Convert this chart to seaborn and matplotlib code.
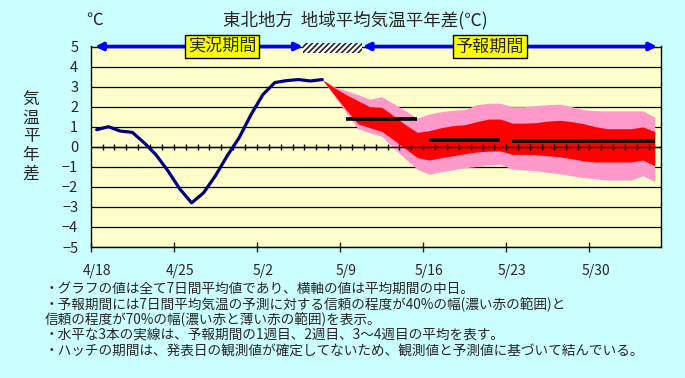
import numpy as np
import matplotlib
matplotlib.use('Agg')
from matplotlib import pyplot as plt
from matplotlib import transforms
from matplotlib.patches import Rectangle
import seaborn as sns

# x values are days counted from 4/18
obs_day = [0.5, 1.5, 2.5, 3.5, 4.5, 5.5, 6.5, 7.5, 8.5, 9.5,
           10.5, 11.5, 12.5, 13.5, 14.5, 15.5, 16.5, 17.5, 18.5, 19.5]
obs_val = [0.85, 1.0, 0.78, 0.72, 0.2, -0.4, -1.2, -2.1, -2.8, -2.3,
           -1.45, -0.45, 0.45, 1.6, 2.6, 3.2, 3.3, 3.35, 3.28, 3.35]

fc_day = [19.5, 20.5, 21.5, 22.5, 23.5, 24.5, 25.5, 26.5, 27.5, 28.5,
          29.5, 30.5, 31.5, 32.5, 33.5, 34.5, 35.5, 36.5, 37.5, 38.5,
          39.5, 40.5, 41.5, 42.5, 43.5, 44.5, 45.5, 46.5, 47.5]
p70_hi = [3.35, 3.0, 2.8, 2.6, 2.37, 2.5, 2.15, 1.8, 1.43, 1.63,
          1.75, 1.82, 1.85, 2.1, 2.17, 2.17, 2.0, 2.0, 2.05, 2.1,
          2.12, 2.0, 1.84, 1.8, 1.79, 1.79, 1.79, 1.79, 1.48]
p40_hi = [3.35, 2.95, 2.6, 2.3, 2.0, 1.97, 1.55, 1.1, 0.72, 0.8,
          0.95, 1.05, 1.1, 1.25, 1.38, 1.38, 1.18, 1.18, 1.2, 1.28,
          1.32, 1.25, 1.15, 1.0, 0.9, 0.9, 0.9, 0.99, 0.76]
p40_lo = [3.35, 2.6, 1.85, 1.15, 0.95, 0.77, 0.35, -0.1, -0.54, -0.66,
          -0.55, -0.45, -0.35, -0.26, -0.22, -0.21, -0.38, -0.38, -0.4, -0.45,
          -0.5, -0.6, -0.7, -0.76, -0.76, -0.76, -0.76, -0.66, -0.95]
p70_lo = [3.35, 2.55, 1.7, 0.9, 0.7, 0.53, -0.05, -0.6, -1.12, -1.37,
          -1.25, -1.15, -1.05, -0.99, -0.9, -0.87, -1.12, -1.15, -1.2, -1.28,
          -1.35, -1.45, -1.53, -1.6, -1.66, -1.66, -1.66, -1.45, -1.74]

# weekly means: week 1, week 2, weeks 3-4
week_start = [21.5, 28.5, 35.5]
week_end = [27.5, 34.5, 47.5]
week_mean = [1.4, 0.33, 0.28]

tick_days = [0, 7, 14, 21, 28, 35, 42]
tick_labels = ['4/18', '4/25', '5/2', '5/9', '5/16', '5/23', '5/30']

obs_period = (0.36, 17.86)
hatch_period = (17.9, 22.85)
fc_period = (22.9, 47.7)

title = '東北地方  地域平均気温平年差(℃)'
notes = [
    '・グラフの値は全て7日間平均値であり、横軸の値は平均期間の中日。',
    '・予報期間には7日間平均気温の予測に対する信頼の程度が40%の幅(濃い赤の範囲)と',
    '信頼の程度が70%の幅(濃い赤と薄い赤の範囲)を表示。',
    '・水平な3本の実線は、予報期間の1週目、2週目、3～4週目の平均を表す。',
    '・ハッチの期間は、発表日の観測値が確定してないため、観測値と予測値に基づいて結んでいる。',
]

sns.set_style('white')
plt.rcParams['font.family'] = ['Noto Sans CJK JP', 'DejaVu Sans']
plt.rcParams['hatch.linewidth'] = 1.2

fig = plt.figure(figsize=(6.85, 3.78), dpi=100)
fig.patch.set_facecolor('#CCFFFF')
W, H = 685, 378
ax = fig.add_axes([90.7 / W, 1 - 247 / H, 570 / W, 200.5 / H])
ax.set_facecolor('#FFFFCC')

# bands
ax.fill_between(fc_day, p70_lo, p70_hi, color='#FF99CC', lw=0, zorder=1)
ax.fill_between(fc_day, p40_lo, p40_hi, color='#FF0000', lw=0, zorder=2)

# zero line with daily ticks
ax.axhline(0, color='black', lw=1, zorder=3)
ax.vlines(np.arange(1, 48), -0.15, 0.15, color='black', lw=1, zorder=3)

# observation
sns.lineplot(x=obs_day, y=obs_val, ax=ax, color='#000080', lw=2.3, zorder=4)

# weekly means
ax.hlines(week_mean, week_start, week_end, color='black', lw=2.6, zorder=4)

ax.set_xlim(0, 48)
ax.set_ylim(-5, 5)
ax.set_yticks(range(-5, 6))
ax.set_xticks(tick_days)
ax.set_xticklabels(tick_labels)
ax.yaxis.grid(True, color='black', lw=0.9)
ax.xaxis.grid(False)
ax.set_axisbelow(True)
for s in ax.spines.values():
    s.set_color('black')
    s.set_linewidth(1)
ax.tick_params(axis='y', length=0, pad=9, labelsize=10.5)
ax.tick_params(axis='x', direction='inout', length=7, width=1,
               pad=9, labelsize=10, bottom=True)
offset = transforms.ScaledTranslation(6 / 100, 0, fig.dpi_scale_trans)
for lab in ax.get_xticklabels():
    lab.set_transform(lab.get_transform() + offset)

# period arrows on top edge
arrow = dict(arrowstyle='<|-|>', color='#0000FF', lw=2.6,
             mutation_scale=11, shrinkA=0, shrinkB=0)
ax.annotate('', xy=(obs_period[0], 5), xytext=(obs_period[1], 5),
            arrowprops=arrow, annotation_clip=False, zorder=5)
ax.annotate('', xy=(fc_period[0], 5), xytext=(fc_period[1], 5),
            arrowprops=arrow, annotation_clip=False, zorder=5)
ax.add_patch(Rectangle((hatch_period[0], 4.66), hatch_period[1] - hatch_period[0],
                       0.53, facecolor='white', edgecolor='#222222', lw=0,
                       hatch='//////', clip_on=False, zorder=5))
box = dict(boxstyle='square,pad=0.17', fc='#FFFF00', ec='black', lw=1)
ax.text(11.06, 5, '実況期間', ha='center', va='center', fontsize=12.3,
        bbox=box, zorder=6, clip_on=False)
ax.text(33.6, 5, '予報期間', ha='center', va='center', fontsize=12.3,
        bbox=box, zorder=6, clip_on=False)
ax.set_xlabel('')
ax.set_ylabel('')

fig.text(355.5 / W, 1 - 20 / H, title, ha='center', va='center', fontsize=12.6)
fig.text(95 / W, 1 - 20 / H, '℃', ha='center', va='center', fontsize=12)
fig.text(31 / W, 1 - 137 / H, '気\n温\n平\n年\n差', ha='center', va='center',
         fontsize=12, linespacing=1.1)
for i, line in enumerate(notes):
    fig.text(45 / W, 1 - (289 + 15.3 * i) / H, line, ha='left', va='center',
             fontsize=9.85)

fig.savefig('out.png', dpi=100, facecolor=fig.get_facecolor())
